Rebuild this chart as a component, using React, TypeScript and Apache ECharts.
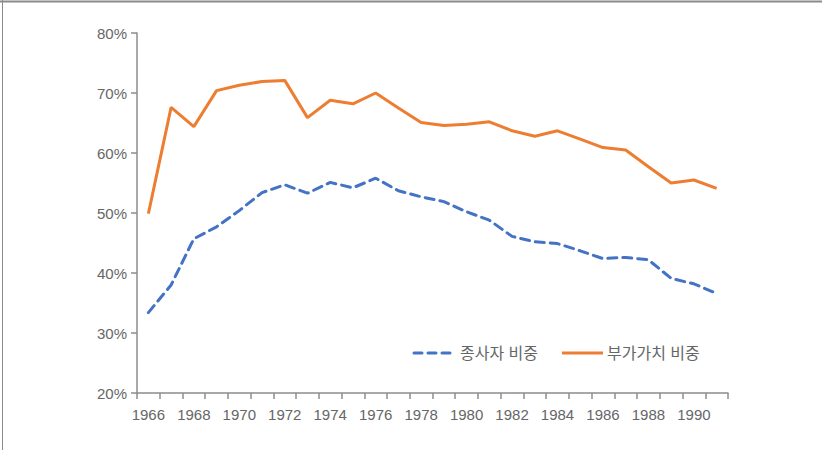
import React, { useEffect, useRef } from "react";
import * as echarts from "echarts";

const years = [
  "1966", "1967", "1968", "1969", "1970", "1971", "1972", "1973", "1974", "1975", "1976", "1977", "1978",
  "1979", "1980", "1981", "1982", "1983", "1984", "1985", "1986", "1987", "1988", "1989", "1990", "1991",
];
const employmentShare = [
  33.4, 38.0, 45.7, 47.7, 50.4, 53.4, 54.7, 53.3, 55.1, 54.2, 55.8, 53.7, 52.7,
  51.9, 50.2, 48.8, 46.1, 45.2, 44.9, 43.7, 42.4, 42.6, 42.2, 39.1, 38.2, 36.6,
];
const valueAddedShare = [
  49.9, 67.6, 64.4, 70.4, 71.3, 71.9, 72.1, 65.9, 68.8, 68.2, 70.0, 67.5, 65.1,
  64.6, 64.8, 65.2, 63.7, 62.8, 63.7, 62.3, 60.9, 60.5, 57.7, 55.0, 55.5, 54.1,
];
const seriesNames = ["종사자 비중", "부가가치 비중"];

const FONT = "'Liberation Sans', 'Noto Sans CJK KR', Arial, sans-serif";
const TEXT = "#666666";
const AXIS = "#8c8c8c";
const BLUE = "#4472C4";
const ORANGE = "#ED7D31";
const DASH = [9, 6];

export default function App() {
  const ref = useRef<HTMLDivElement>(null);
  useEffect(() => {
    document.body.style.margin = "0";
    const chart = echarts.init(ref.current!, null, { renderer: "svg" });
    chart.setOption({
      animation: false,
      backgroundColor: "#ffffff",
      textStyle: { fontFamily: FONT },
      grid: { left: 137, right: 94, top: 33, bottom: 57 },
      xAxis: {
        type: "category",
        data: years,
        boundaryGap: true,
        axisLine: { lineStyle: { color: AXIS, width: 1.5 } },
        axisTick: { show: true, length: 6, interval: 0, lineStyle: { color: AXIS, width: 1.5 } },
        axisLabel: { interval: 1, color: TEXT, fontSize: 15, margin: 14, fontFamily: FONT },
        splitLine: { show: false },
      },
      yAxis: {
        type: "value",
        min: 20,
        max: 80,
        interval: 10,
        axisLine: { show: true, lineStyle: { color: AXIS, width: 1.5 } },
        axisTick: { show: true, length: 6, lineStyle: { color: AXIS, width: 1.5 } },
        axisLabel: { color: TEXT, fontSize: 15, margin: 10, formatter: "{value}%", fontFamily: FONT },
        splitLine: { show: false },
      },
      series: [
        {
          name: seriesNames[0],
          type: "line",
          data: employmentShare,
          symbol: "none",
          color: BLUE,
          lineStyle: { color: BLUE, width: 3, type: DASH, cap: "round" },
        },
        {
          name: seriesNames[1],
          type: "line",
          data: valueAddedShare,
          symbol: "none",
          color: ORANGE,
          lineStyle: { color: ORANGE, width: 3 },
        },
      ],
      graphic: [
        { type: "line", shape: { x1: 0, y1: 1.5, x2: 822, y2: 1.5 }, style: { stroke: "#8a8a8a", lineWidth: 2 } },
        { type: "line", shape: { x1: 2.5, y1: 0, x2: 2.5, y2: 450 }, style: { stroke: "#8a8a8a", lineWidth: 1 } },
        {
          type: "line",
          shape: { x1: 414, y1: 353, x2: 452, y2: 353 },
          style: { stroke: BLUE, lineWidth: 3, lineDash: [8, 6], lineCap: "round" },
        },
        {
          type: "text",
          x: 460,
          y: 353,
          style: { text: seriesNames[0], fill: TEXT, font: `16px ${FONT}`, verticalAlign: "middle" },
        },
        {
          type: "line",
          shape: { x1: 562, y1: 353, x2: 603, y2: 353 },
          style: { stroke: ORANGE, lineWidth: 3 },
        },
        {
          type: "text",
          x: 607,
          y: 353,
          style: { text: seriesNames[1], fill: TEXT, font: `16px ${FONT}`, verticalAlign: "middle" },
        },
      ],
    });
    return () => chart.dispose();
  }, []);
  return <div ref={ref} style={{ width: 822, height: 450 }} />;
}
